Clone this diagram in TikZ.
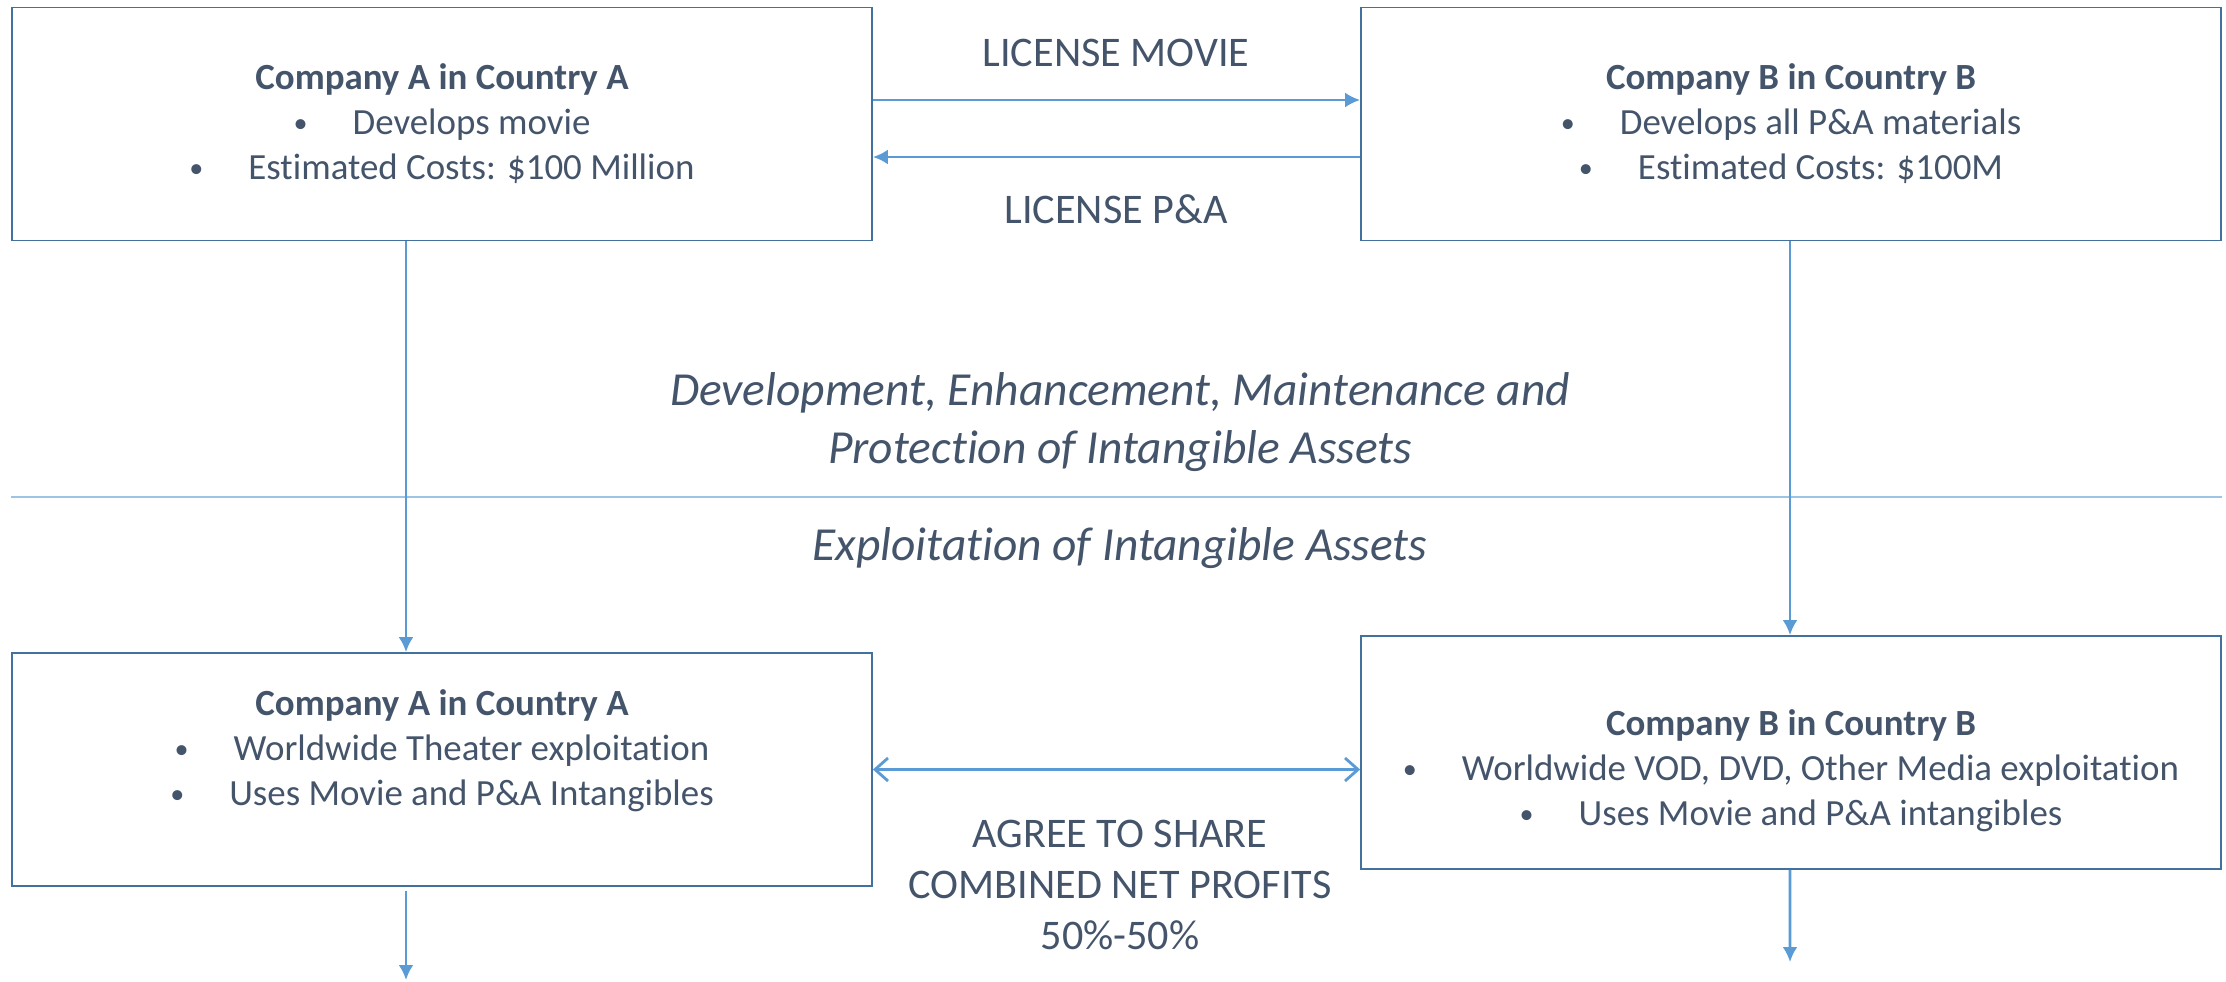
\documentclass[tikz,border=0pt]{standalone}
\usepackage{fontspec}
\setmainfont{Carlito}[Ligatures=NoCommon]
\usetikzlibrary{arrows.meta,positioning}

\definecolor{inkgray}{HTML}{44546A}
\definecolor{boxblue}{HTML}{41719C}
\definecolor{linkblue}{HTML}{5B9BD5}
\definecolor{splitblue}{HTML}{9DC3E6}

\tikzset{
  company/.style={draw=boxblue, line width=0.5pt, minimum width=8.6cm,
    minimum height=2.33cm, inner sep=0pt},
  boxtext/.style={text=inkgray, align=center,
    font=\fontsize{10.5}{12.8}\selectfont},
  flowtext/.style={text=inkgray, align=center,
    font=\fontsize{12}{14.6}\selectfont},
  phasetext/.style={text=inkgray, align=center,
    font=\fontsize{13.5}{16.4}\selectfont\itshape},
  link/.style={draw=linkblue, line width=0.8pt}
}
\newcommand{\bul}{\raisebox{0.15ex}{\fontsize{8}{8}\selectfont\textbullet}\hspace{0.45cm}}

\begin{document}
\begin{tikzpicture}
    [>={Latex[length=1.5mm,width=1.5mm]},
    line join=miter]

    \useasboundingbox (0,0) rectangle (22.26,-9.81);

    % development side
    \node[company] (a1) at (4.42,-1.24) {};
    \node[company] (b1) at (17.91,-1.24) {};
    \node[boxtext] (a1txt) at (a1.center)
      {\textbf{Company A in Country A}\\
       \bul Develops movie\\
       \bul Estimated Costs: \$100 Million};
    \node[boxtext] (b1txt) at (b1.center)
      {\textbf{Company B in Country B}\\
       \bul Develops all P\&A materials\\
       \bul Estimated Costs: \$100M};

    % exploitation side
    \node[company] (a2) at (4.42,-7.695) {};
    \node[company] (b2) at (17.91,-7.525) {};
    \node[boxtext] (a2txt) at ([yshift=0.185cm]a2.center)
      {\textbf{Company A in Country A}\\
       \bul Worldwide Theater exploitation\\
       \bul Uses Movie and P\&A Intangibles};
    \node[boxtext] (b2txt) at ([yshift=-0.185cm]b2.center)
      {\textbf{Company B in Country B}\\
       \bul Worldwide VOD, DVD, Other Media exploitation\\
       \bul Uses Movie and P\&A intangibles};

    % licences between A and B
    \draw[link, ->] ([yshift=0.24cm]a1.east) -- ([yshift=0.24cm]b1.west);
    \draw[link, ->] ([yshift=-0.33cm]b1.west) -- ([yshift=-0.33cm]a1.east);
    \node[flowtext] (movie) at (11.16,-0.53) {LICENSE MOVIE};
    \node[flowtext] (pa) at (11.16,-2.09) {LICENSE P\&A};

    % phase split
    \coordinate (splitl) at (0.11,-4.97);
    \coordinate (splitr) at (22.22,-4.97);
    \draw[splitblue, line width=0.6pt] (splitl) -- (splitr);
    \node[phasetext] (dev) at (11.2,-4.22)
      {Development, Enhancement, Maintenance and\\
       Protection of Intangible Assets};
    \node[phasetext] (expl) at (11.2,-5.48) {Exploitation of Intangible Assets};

    % down the columns
    \draw[link, ->] ([xshift=-0.36cm]a1.south) -- ([xshift=-0.36cm]a2.north);
    \draw[link, ->] ([xshift=-0.01cm]b1.south) -- ([xshift=-0.01cm]b2.north);
    \coordinate (aout) at (4.06,-9.80);
    \coordinate (bout) at (17.90,-9.62);
    \draw[link, ->] ([xshift=-0.36cm,yshift=-0.04cm]a2.south) -- (aout);
    \draw[link, ->] ([xshift=-0.01cm]b2.south) -- (bout);

    % profit split
    \draw[link, {Straight Barb[length=1.3mm,width=2.3mm]}-{Straight Barb[length=1.3mm,width=2.3mm]}]
      (a2.east) -- (a2.east -| b2.west);
    \node[flowtext] (share) at (11.2,-8.85)
      {AGREE TO SHARE\\ COMBINED NET PROFITS\\ 50\%-50\%};
\end{tikzpicture}
\end{document}
